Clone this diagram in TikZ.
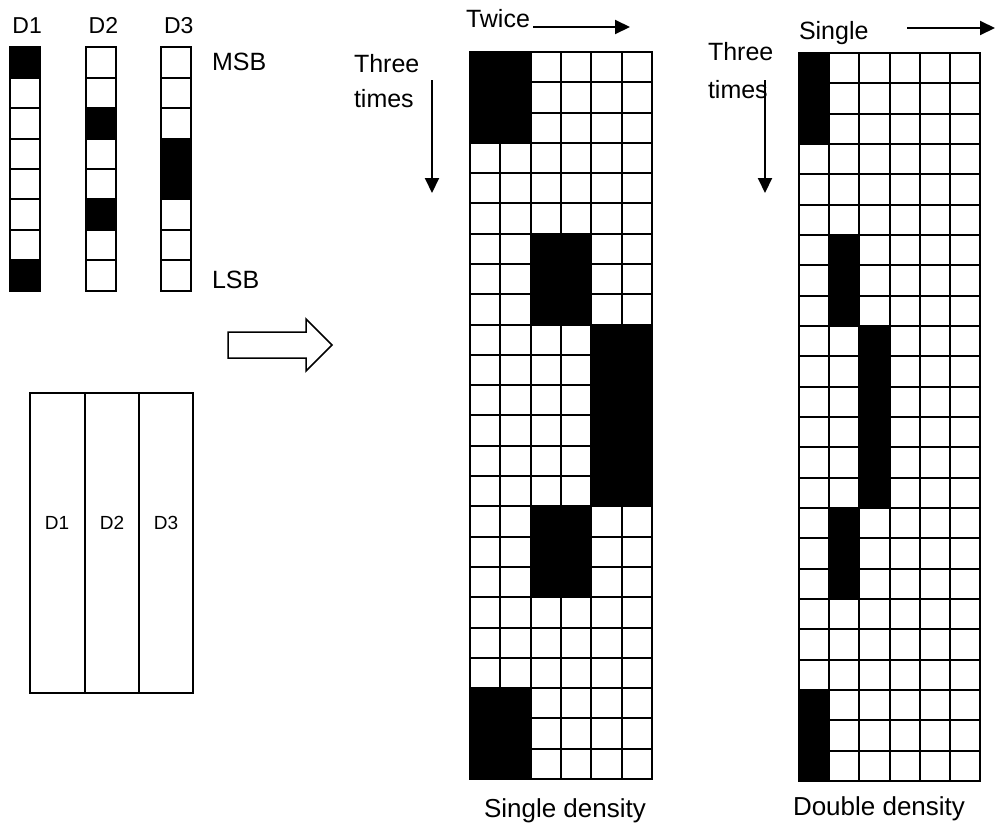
\documentclass[tikz,border=0pt]{standalone}
\usepackage{fontspec}
\setmainfont{Liberation Sans}
\usetikzlibrary{arrows.meta}

\begin{document}
\begin{tikzpicture}[x=1pt, y=-1pt, line width=2pt,
  txt/.style={inner sep=0pt, anchor=base west, font=\fontsize{25}{30}\selectfont},
  arr/.style={-{Triangle[length=15pt,width=14pt]}}]
  \useasboundingbox (0,0) rectangle (996,825);
  % bit columns D1..D3
  \foreach \x/\n/\a/\b in {9.5/D1/0/7, 85.7/D2/2/5, 161/D3/3/4} {
    \node[txt, font=\fontsize{23}{28}\selectfont] (top\n) at (\x+2,33) {\n};
    \begin{scope}[shift={(\x,47.3)}, x=30pt, y=-30.4pt]
      \fill (0,\a) rectangle (1,\a+1); \fill (0,\b) rectangle (1,\b+1);
      \foreach \r in {1,...,7} \draw (0,\r) -- (1,\r);
      \draw (0,0) rectangle (1,8);
    \end{scope}
  }
  \node[txt] (msb) at (211,70) {MSB};
  \node[txt] (lsb) at (211,288) {LSB};
  % hollow arrow
  \draw[line width=1.5pt, line join=miter] (228,332) -- (306,332) -- (306,319) -- (332,345)
    -- (306,371) -- (306,358) -- (228,358) -- cycle;
  % D1 D2 D3 strips
  \draw (30,393) rectangle (193,693);
  \draw (85,393) -- (85,693); \draw (139,393) -- (139,693);
  \foreach \x/\n in {57/D1, 112/D2, 166/D3}
    \node[inner sep=0pt, anchor=base, font=\fontsize{19}{23}\selectfont] (box\n) at (\x,529) {\n};
  % single density
  \begin{scope}[shift={(470,52)}, x=30.33pt, y=-30.29pt]
    \foreach \c/\r/\w/\h in {0/0/2/3, 0/21/2/3, 2/6/2/3, 2/15/2/3, 4/9/2/6}
      \fill (\c,\r) rectangle ++(\w,\h);
    \foreach \i in {1,...,5} \draw (\i,0) -- (\i,24);
    \foreach \j in {1,...,23} \draw (0,\j) -- (6,\j);
    \draw (0,0) rectangle (6,24);
  \end{scope}
  \node[txt] (twice) at (465,27) {Twice};
  \node[txt] (three1) at (353,72) {Three};
  \node[txt] (times1) at (353,107) {times};
  \coordinate (twiceS) at (533,27); \coordinate (twiceE) at (630,27);
  \coordinate (downAS) at (432,80); \coordinate (downAE) at (432,193);
  \draw[arr] (twiceS) -- (twiceE);
  \draw[arr] (downAS) -- (downAE);
  \node[txt, font=\fontsize{26}{31}\selectfont] (sdens) at (483,817) {Single density};
  % double density
  \begin{scope}[shift={(799,53)}, x=30.17pt, y=-30.33pt]
    \foreach \c/\r/\w/\h in {0/0/1/3, 0/21/1/3, 1/6/1/3, 1/15/1/3, 2/9/1/6}
      \fill (\c,\r) rectangle ++(\w,\h);
    \foreach \i in {1,...,5} \draw (\i,0) -- (\i,24);
    \foreach \j in {1,...,23} \draw (0,\j) -- (6,\j);
    \draw (0,0) rectangle (6,24);
  \end{scope}
  \node[txt] (single) at (798,39) {Single};
  \node[txt] (three2) at (707,60) {Three};
  \node[txt] (times2) at (707,98) {times};
  \coordinate (singleS) at (907,28); \coordinate (singleE) at (995,28);
  \coordinate (downBS) at (765,80); \coordinate (downBE) at (765,193);
  \draw[arr] (singleS) -- (singleE);
  \draw[arr] (downBS) -- (downBE);
  \node[txt, font=\fontsize{26}{31}\selectfont] (ddens) at (792,815) {Double density};
\end{tikzpicture}
\end{document}
